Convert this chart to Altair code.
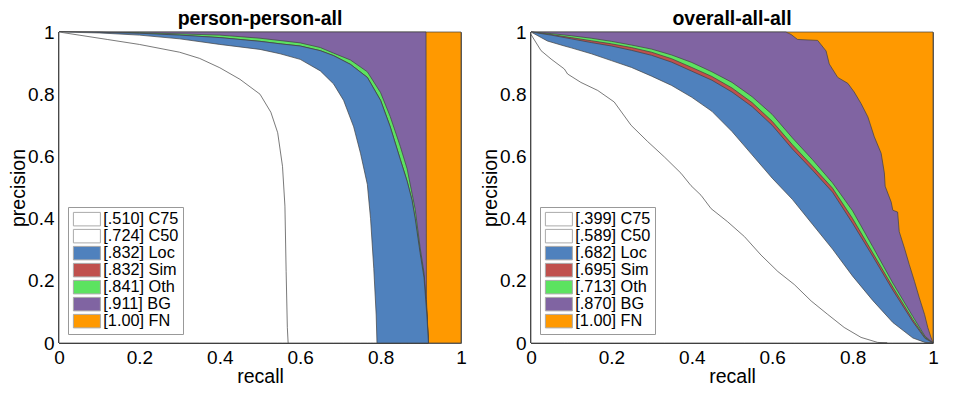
import altair as alt
import pandas as pd

FONT = "Liberation Sans"

# series (legend order) and colours
SERIES = ["C75", "C50", "Loc", "Sim", "Oth", "BG", "FN"]
COLORS = ["#ffffff", "#ffffff", "#4f81bd", "#c0504d", "#5ce360", "#8064a2", "#ff9900"]
TICKS = [0, 0.2, 0.4, 0.6, 0.8, 1]

# ---------------- person-person-all ----------------
PP_TITLE = "person-person-all"
PP_AP = [".510", ".724", ".832", ".832", ".841", ".911", "1.00"]

PP_C75_R = [0, .05, .12, .2, .3, .35, .4, .45, .5, .527, .544, .556, .562, .565, .568, .57]
PP_C75_P = [1, .99, .976, .96, .935, .915, .885, .848, .80, .742, .676, .568, .44, .23, .05, 0]

PP_C50_R = [0, .1, .2, .3, .4, .5, .55, .6, .65, .683, .708, .733, .75, .767, .775, .783, .789, .791]
PP_C50_P = [1, .997, .99, .978, .96, .944, .93, .912, .875, .833, .78, .695, .61, .51, .40, .24, .09, 0]

PP_LOC_R = [0, .1, .2, .3, .4, .5, .55, .6, .65, .683, .725, .767, .8, .824, .849, .866, .878, .886, .898, .908, .915, .919]
PP_LOC_P = [1, .999, .996, .99, .982, .97, .962, .955, .94, .924, .896, .854, .78, .695, .59, .52, .46, .40, .292, .21, .09, 0]

PP_SIM_R = [0, .1, .2, .3, .4, .5, .55, .6, .65, .683, .725, .767, .8, .824, .849, .866, .878, .886, .898, .908, .915, .919]
PP_SIM_P = [1, .999, .996, .99, .982, .97, .962, .955, .94, .924, .896, .854, .78, .695, .59, .52, .46, .40, .292, .21, .09, 0]

PP_OTH_R = [0, .2, .4, .5, .6, .65, .683, .725, .767, .8, .824, .849, .866, .886, .898, .908, .915, .919]
PP_OTH_P = [1, .998, .99, .98, .965, .95, .932, .91, .872, .805, .728, .632, .56, .43, .31, .225, .1, 0]

PP_BG_R = [0, .913, .914, .919]
PP_BG_P = [1, 1, .14, 0]

PP_FN_R = [0, 1]
PP_FN_P = [1, 1]

# ---------------- overall-all-all ----------------
OV_TITLE = "overall-all-all"
OV_AP = [".399", ".589", ".682", ".695", ".713", ".870", "1.00"]

OV_C75_R = [0, .025, .05, .083, .091, .124, .166, .207, .249, .29, .332, .373, .398, .423, .448, .489,
            .531, .572, .614, .655, .697, .738, .779, .821, .862, .886]
OV_C75_P = [.992, .94, .913, .881, .865, .838, .812, .775, .70, .648, .598, .546, .506, .475, .432, .39,
            .342, .283, .23, .188, .135, .092, .05, .018, .002, 0]

OV_C50_R = [0, .041, .083, .1, .15, .2, .25, .3, .35, .4, .45, .5, .55, .6, .65, .7, .75, .8, .85, .9, .95, .98, 1]
OV_C50_P = [1, .971, .955, .949, .93, .908, .886, .858, .828, .79, .745, .68, .605, .53, .462, .382, .302, .215,
            .137, .066, .016, .002, 0]

OV_LOC_R = [0, .05, .1, .15, .2, .25, .3, .35, .4, .45, .5, .55, .6, .65, .7, .75, .8, .85, .9, .95, .98, 1]
OV_LOC_P = [1, .99, .978, .966, .955, .941, .925, .903, .874, .845, .807, .76, .70, .624, .556, .485, .385,
            .279, .17, .068, .015, 0]

OV_SIM_R = [0, .05, .1, .15, .2, .25, .3, .35, .4, .45, .5, .55, .6, .65, .7, .75, .8, .85, .9, .95, .98, 1]
OV_SIM_P = [1, .992, .982, .972, .962, .95, .935, .914, .886, .857, .82, .773, .713, .638, .569, .498, .40,
            .29, .18, .075, .018, 0]

OV_OTH_R = [0, .05, .1, .15, .2, .25, .3, .35, .4, .45, .5, .55, .6, .65, .7, .75, .8, .85, .9, .95, .98, 1]
OV_OTH_P = [1, .995, .988, .98, .97, .958, .945, .926, .902, .872, .838, .792, .735, .66, .59, .515, .425,
            .31, .193, .085, .022, 0]

OV_BG_R = [0, .634, .647, .663, .713, .734, .742, .763, .788, .804, .821, .838, .854, .871, .879, .881,
           .896, .9, .912, .916, .929, .941, .954, .966, .979, .987, .995, 1]
OV_BG_P = [1, 1, .992, .976, .973, .939, .897, .854, .835, .807, .77, .727, .663, .61, .547, .504,
           .453, .427, .421, .358, .305, .252, .198, .145, .092, .05, .018, 0]

OV_FN_R = [0, 1]
OV_FN_P = [1, 1]

PP_CURVES = [(PP_C75_R, PP_C75_P), (PP_C50_R, PP_C50_P), (PP_LOC_R, PP_LOC_P), (PP_SIM_R, PP_SIM_P),
             (PP_OTH_R, PP_OTH_P), (PP_BG_R, PP_BG_P), (PP_FN_R, PP_FN_P)]
OV_CURVES = [(OV_C75_R, OV_C75_P), (OV_C50_R, OV_C50_P), (OV_LOC_R, OV_LOC_P), (OV_SIM_R, OV_SIM_P),
             (OV_OTH_R, OV_OTH_P), (OV_BG_R, OV_BG_P), (OV_FN_R, OV_FN_P)]

EDGE = "#404040"


def panel(title, ap, curves):
    labels = [f"[{a}] {s}" for a, s in zip(ap, SERIES)]
    scale = alt.Scale(domain=labels, range=COLORS)
    legend = alt.Legend(
        title=None, orient="bottom-left", offset=9, padding=4,
        strokeColor="#999999", fillColor="white", cornerRadius=0,
        symbolType="M-1,-1H3V1H-1Z", symbolSize=182,
        symbolStrokeColor="#aaaaaa", symbolStrokeWidth=1, symbolOpacity=1,
        labelFont=FONT, labelFontSize=16.3, labelColor="black",
        labelOffset=15, rowPadding=-1,
    )
    layers = []
    for i in reversed(range(len(SERIES))):
        r, p = curves[i]
        df = pd.DataFrame({"recall": r, "precision": p, "series": labels[i]})
        layers.append(
            alt.Chart(df).mark_area(stroke=EDGE, strokeWidth=0.7, fillOpacity=1, interpolate="linear").encode(
                x=alt.X("recall:Q", scale=alt.Scale(domain=[0, 1], nice=False),
                        axis=alt.Axis(values=TICKS, format="~g", labelFlush=False, title="recall")),
                y=alt.Y("precision:Q", stack=None, scale=alt.Scale(domain=[0, 1], nice=False),
                        axis=alt.Axis(values=TICKS, format="~g", title="precision")),
                color=alt.Color("series:N", scale=scale, legend=legend),
            )
        )
    return alt.layer(*layers).properties(width=402, height=311, title=title)


chart = alt.hconcat(
    panel(PP_TITLE, PP_AP, PP_CURVES),
    panel(OV_TITLE, OV_AP, OV_CURVES),
    spacing=13,
).properties(padding=0).resolve_scale(color="independent").configure_view(
    stroke="#666666", strokeWidth=1
).configure_axis(
    labelFont=FONT, labelFontSize=19, labelColor="black", labelPadding=5,
    titleFont=FONT, titleFontSize=19.5, titleFontWeight="normal", titleColor="black",
    ticks=False, grid=False, domain=False,
).configure_axisY(titlePadding=-1).configure_axisX(titlePadding=0).configure_title(
    font=FONT, fontSize=19.5, fontWeight="bold", color="black", offset=-6
)

chart.save("out.html", embed_options={"renderer": "svg", "actions": False})
